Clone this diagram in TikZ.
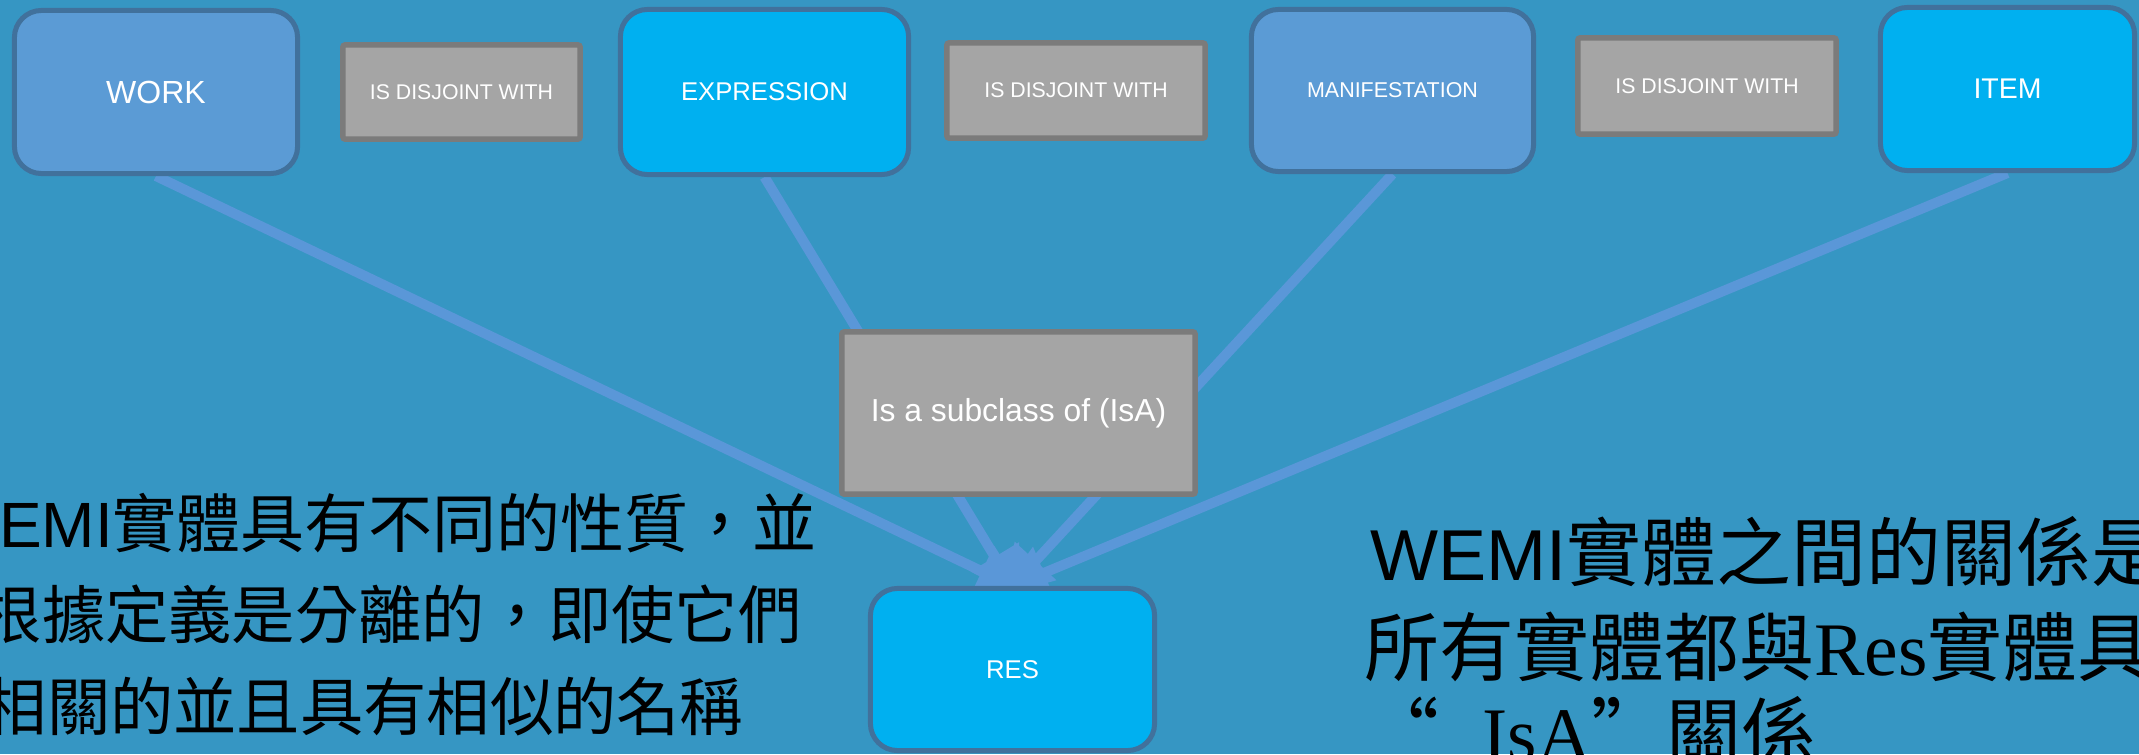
\documentclass[tikz,border=0pt]{standalone}
\usepackage{fontspec}
\setmainfont{Liberation Sans}
\newfontfamily\cjk{Noto Sans CJK TC}
\newfontfamily\lserif{Liberation Serif}
\usetikzlibrary{arrows.meta}
\definecolor{bgblue}{HTML}{3696C3}
\definecolor{workfill}{HTML}{5B9BD5}
\definecolor{exprfill}{HTML}{00B0F0}
\definecolor{entityedge}{HTML}{41719C}
\definecolor{relfill}{HTML}{A5A5A5}
\definecolor{reledge}{HTML}{7B7B7B}
\definecolor{linkblue}{HTML}{5A97D8}
\newcommand\fsz[1]{\fontsize{#1}{#1}\selectfont}
\pgfdeclarelayer{bg}
\pgfdeclarelayer{links}
\pgfsetlayers{bg,links,main}
\begin{document}
\begin{tikzpicture}[x=0.01cm,y=-0.01cm,
  entity/.style={draw=entityedge, line width=0.05cm, rounded corners=0.27cm,
                 inner sep=0pt, text=white, align=center},
  relbox/.style={draw=reledge, fill=relfill, line width=0.055cm, rounded corners=0.02cm,
                 inner sep=0pt, text=white},
  isa/.style={draw=linkblue, line width=0.1cm, shorten >=-0.12cm,
              -{Triangle[length=0.46cm,width=0.54cm]}},
  note/.style={anchor=base west, inner sep=0pt, text=black}
]
\useasboundingbox (0,0) rectangle (2139,754);
\begin{pgfonlayer}{bg}
  \fill[bgblue] (0,0) rectangle (2139,754);
\end{pgfonlayer}

% WEMI entities and the RES superclass
\node[entity, fill=workfill, minimum width=2.83cm, minimum height=1.63cm, font=\fsz{9.1pt}]
  (work) at (156,92) {WORK};
\node[entity, fill=exprfill, minimum width=2.88cm, minimum height=1.65cm, font=\fsz{7.3pt}]
  (expr) at (764.5,92) {EXPRESSION};
\node[entity, fill=workfill, minimum width=2.82cm, minimum height=1.62cm, font=\fsz{6.1pt}]
  (mani) at (1392.5,90.5) {MANIFESTATION};
\node[entity, fill=exprfill, minimum width=2.54cm, minimum height=1.63cm, font=\fsz{8.1pt}]
  (item) at (2007.5,89) {ITEM};
\node[entity, fill=exprfill, minimum width=2.84cm, minimum height=1.62cm, font=\fsz{7.3pt}]
  (res) at (1012.5,669.5) {RES};

% relation labels
\node[relbox, minimum width=2.37cm, minimum height=0.94cm, font=\fsz{6.05pt}]
  (dis1) at (461.5,92) {IS DISJOINT WITH};
\node[relbox, minimum width=2.58cm, minimum height=0.95cm, font=\fsz{6.05pt}]
  (dis2) at (1076,90.5) {IS DISJOINT WITH};
\node[relbox, minimum width=2.58cm, minimum height=0.96cm, font=\fsz{6.05pt}]
  (dis3) at (1707,86) {IS DISJOINT WITH};
\node[relbox, minimum width=3.53cm, minimum height=1.62cm, font=\fsz{9.05pt}]
  (sub) at (1018.5,413) {Is a subclass of (IsA)};

% IsA links, drawn beneath the boxes
\begin{pgfonlayer}{links}
  \foreach \n in {work,expr,mani,item}
    \draw[isa] (\n.south) -- (res.north);
\end{pgfonlayer}

% explanatory text, cut at the page edges
\begin{scope}
\clip (0,0) rectangle (2139,754);
\node[note, font=\fsz{18.2pt}] (l1) at (-62,547) {WEMI{\cjk 實體具有不同的性質，並}};
\node[note, font=\fsz{18pt}\cjk] (l2) at (-22,638) {根據定義是分離的，即使它們};
\node[note, font=\fsz{18pt}\cjk] (l3) at (-17,730) {相關的並且具有相似的名稱};

\node[note, font=\fsz{20.5pt}] (r1) at (1370,580) {WEMI{\cjk\fsz{21.3pt}實體之間的關係是}};
\node[note, font=\fsz{21.3pt}\cjk] (r2) at (1364,675) {所有實體都與{\lserif\fsz{21.5pt}Res}實體具};
\node[note, font=\fsz{21.3pt}\cjk] (r3) at (1364,760)
  {\makebox[0.75cm][r]{“}\hspace{0.43cm}{\lserif\fsz{21.5pt}IsA}\makebox[0.75cm][l]{”}關係};
\end{scope}
\end{tikzpicture}
\end{document}
